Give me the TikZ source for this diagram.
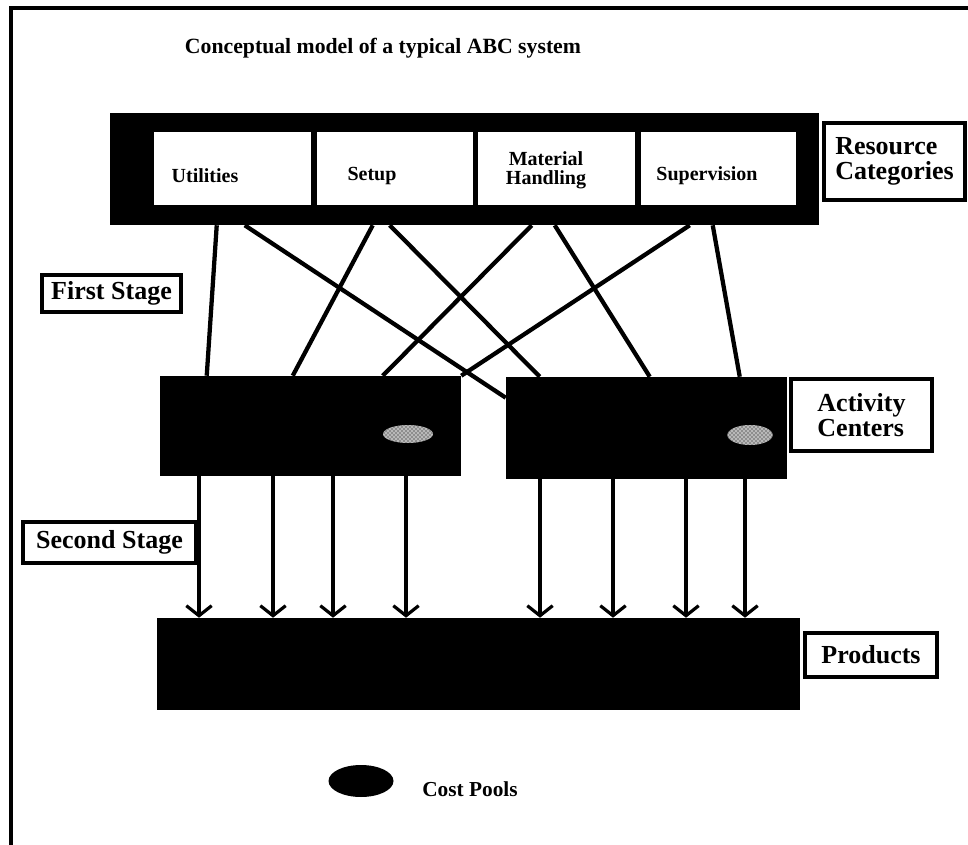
\documentclass[tikz,border=0pt]{standalone}
\usepackage{fontspec}
\setmainfont{Liberation Serif}
\usetikzlibrary{arrows.meta,calc,fit,shapes.geometric,patterns}

\begin{document}
\begin{tikzpicture}[x=0.75pt,y=-0.75pt,
  frameline/.style={line width=3pt},
  blackbox/.style={fill=black, inner sep=0pt},
  cellbox/.style={fill=white, inner sep=0pt},
  celltext/.style={inner sep=0pt, align=center, font=\bfseries\fontsize{15}{14}\selectfont},
  tag/.style={draw, line width=2.6pt, inner sep=0pt},
  tagtext/.style={inner sep=0pt, align=left,
    font=\bfseries\fontsize{19.5}{18.5}\selectfont},
  link/.style={line width=3.2pt},
  flow/.style={line width=2.4pt,
    -{Straight Barb[length=7.5pt,width=19pt,line width=2.4pt]}},
  pool/.style={ellipse, inner sep=0pt, preaction={fill=gray!55}, pattern=crosshatch dots},
]
\useasboundingbox (0,0) rectangle (968,845);

% page frame (top and left edges)
\draw[frameline] (10.5,845) -- (10.5,8) -- (968,8);

% title
\node[anchor=base, font=\bfseries\fontsize{16.3}{18}\selectfont] (title) at (383,54)
  {Conceptual model of a typical ABC system};

% resource categories bar
\node[blackbox, fit={(110,113) (819,225)}] (res) {};
\node[cellbox, fit={(154,132) (311,205)}] (c1) {};
\node[cellbox, fit={(317,132) (473,205)}] (c2) {};
\node[cellbox, fit={(478,132) (635,205)}] (c3) {};
\node[cellbox, fit={(641,132) (796,205)}] (c4) {};
\node[celltext] (t1) at (205,176) {Utilities};
\node[celltext] (t2) at (372,176) {Setup};
\node[celltext] (t3) at (546,170) {Material\\Handling};
\node[celltext] (t4) at (707,176) {Supervision};

\node[tag, fit={(824,123) (965,200)}] (rctag) {};
\node[tagtext] (rctext) at (rctag.center) {Resource\\Categories};

% activity centers
\node[blackbox, fit={(160,376) (461,476)}] (act1) {};
\node[blackbox, fit={(506,377) (787,479)}] (act2) {};
\node[pool, minimum width=37.5pt, minimum height=13.5pt] (cp1) at (408,434) {};
\node[pool, minimum width=34pt, minimum height=15pt] (cp2) at (750,435) {};
\node[tag, fit={(791,379) (932,451)}] (actag) {};
\node[tagtext] (actext) at (actag.center) {Activity\\Centers};

% products
\node[blackbox, fit={(157,618) (800,710)}] (prod) {};
\node[tag, fit={(805,633) (937,677)}] (prtag) {};
\node[tagtext] (prtext) at (prtag.center) {Products};

% stage labels
\node[tag, fit={(42,275) (181,312)}] (first) {};
\node[tagtext] (firsttext) at (first.center) {First Stage};
\node[tag, fit={(23,522) (196,563)}] (second) {};
\node[tagtext] (secondtext) at (second.center) {Second Stage};

% first stage: resources to activity centers
\draw[link] ($(res.south west)+(107,0)$) -- ($(act1.north west)+(47,0)$);
\draw[link] ($(res.south west)+(135,0)$) -- ($(act2.north west)+(0,21)$);
\draw[link] ($(res.south west)+(263,0)$) -- ($(act1.north west)+(133,0)$);
\draw[link] ($(res.south west)+(280,0)$) -- ($(act2.north west)+(34,0)$);
\draw[link] ($(res.south west)+(422,0)$) -- ($(act1.north west)+(223,0)$);
\draw[link] ($(res.south west)+(445,0)$) -- ($(act2.north west)+(144,0)$);
\draw[link] ($(res.south west)+(580,0)$) -- (act1.north east);
\draw[link] ($(res.south west)+(603,0)$) -- ($(act2.north west)+(234,0)$);

% second stage: activity centers to products
\foreach \x in {199,273,333,406}
  \draw[flow] (act1.south -| \x,0) -- (prod.north -| \x,0);
\foreach \x in {540,613,686,745}
  \draw[flow] (act2.south -| \x,0) -- (prod.north -| \x,0);

% legend
\node[ellipse, fill=black, inner sep=0pt, minimum width=48.75pt, minimum height=24pt]
  (legpool) at (361,781) {};
\node[anchor=base west, inner sep=0pt, font=\bfseries\fontsize{16}{18}\selectfont]
  (legtext) at (422,796) {Cost Pools};
\end{tikzpicture}
\end{document}
